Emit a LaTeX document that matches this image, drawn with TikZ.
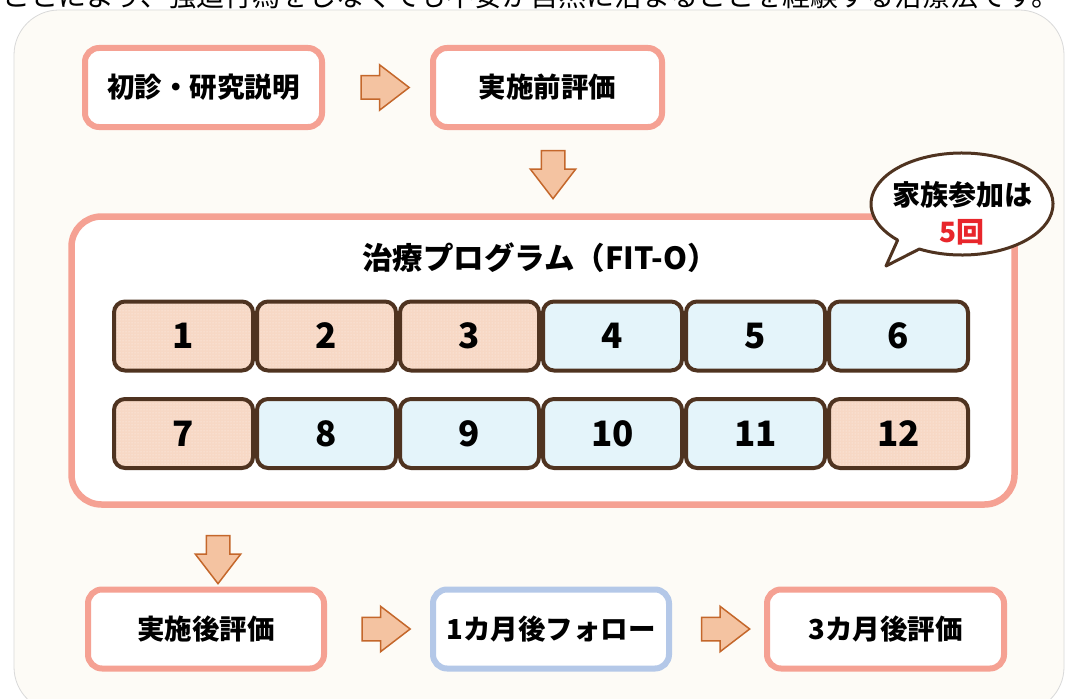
\documentclass[tikz,border=0pt]{standalone}
\usepackage{fontspec}
\setmainfont{Noto Sans CJK JP}
\usetikzlibrary{shapes.arrows,calc,patterns}
\definecolor{card}{HTML}{FDFBF6}
\definecolor{salmon}{HTML}{F5A193}
\definecolor{followblue}{HTML}{B4C8E8}
\definecolor{sessbrown}{HTML}{4F3320}
\definecolor{peach}{HTML}{F7D8C5}
\definecolor{lblue}{HTML}{E4F4FA}
\definecolor{arrowfill}{HTML}{F4C3A1}
\definecolor{arrowline}{HTML}{C4672B}
\definecolor{numred}{HTML}{E8262B}
\begin{document}
\begin{tikzpicture}[x=1pt,y=1pt,
  flowbox/.style={draw=salmon, line width=6pt, rounded corners=14pt, fill=white,
    minimum width=236pt, minimum height=79pt, inner sep=0pt,
    font=\bfseries\fontsize{27.5}{30}\selectfont},
  bigbox/.style={draw=salmon, line width=6.5pt, rounded corners=30pt, fill=white,
    minimum width=943pt, minimum height=288pt, inner sep=0pt},
  sess/.style={draw=sessbrown, line width=4pt, rounded corners=11pt,
    minimum width=139pt, minimum height=69pt, inner sep=0pt,
    font=\bfseries\fontsize{35}{35}\selectfont},
  sesspeach/.style={sess, preaction={fill=peach}, pattern=dots, pattern color=white!70!peach},
  sessblue/.style={sess, fill=lblue},
  blockarrow/.style={single arrow, draw=arrowline, fill=arrowfill, line width=1.5pt,
    minimum height=48pt, inner xsep=0pt, inner ysep=11pt, single arrow head extend=11pt,
    single arrow tip angle=75},
  bubbleline/.style={draw=sessbrown, line width=3pt, fill=white, line join=round}
]
\useasboundingbox (0,0) rectangle (1067,-698);
\fill[white] (0,0) rectangle (1067,-698);
\filldraw[fill=card, draw=black!15, line width=0.8pt, rounded corners=45pt] (14,-10) rectangle (1064,-712);
\node[font=\fontsize{28}{30}\selectfont, anchor=base east, inner sep=0pt] (toptext) at (1060,-7)
  {ことにより、強迫行為をしなくても不安が自然に治まることを経験する治療法です。};

% top row
\node[flowbox, minimum width=237pt] (first) at (203.5,-87.5) {初診・研究説明};
\node[flowbox, minimum width=229pt] (pre) at (547.5,-87.5) {実施前評価};
\node[blockarrow] (a1) at ($(first.east)!0.5!(pre.west)$) {};
\node[blockarrow, rotate=-90] (a2) at (553,-167) {};

% program box
\node[bigbox] (prog) at (543,-360.5) {};
\node[font=\bfseries\fontsize{30.5}{32}\selectfont] (title) at (540,-258) {治療プログラム（FIT-O）};

\foreach \n/\s [count=\i] in {1/sesspeach,2/sesspeach,3/sesspeach,4/sessblue,5/sessblue,6/sessblue}
  \node[\s] (s\n) at ({183.5+143*(\i-1)},-336) {\n};
\foreach \n/\s [count=\i] in {7/sesspeach,8/sessblue,9/sessblue,10/sessblue,11/sessblue,12/sesspeach}
  \node[\s] (s\n) at ({183.5+143*(\i-1)},-433.5) {\n};

% bubble
\coordinate (bubc) at (962,-204);
\coordinate (tailtip) at (886,-266);
\draw[bubbleline] ($(bubc)+(242:91pt and 51pt)$) arc[start angle=242, end angle=585, x radius=91pt, y radius=51pt] -- (tailtip) -- cycle;
\node[font=\bfseries\fontsize{28}{37}\selectfont, align=center] (bubtext) at (962,-213)
  {家族参加は\\\textcolor{numred}{5回}};

% bottom row
\node[blockarrow, rotate=-90] (a3) at (218,-552) {};
\node[flowbox, minimum width=236pt] (post) at (206,-629) {実施後評価};
\node[flowbox, draw=followblue, minimum width=236pt] (follow) at (551,-629) {1カ月後フォロー};
\node[flowbox, minimum width=237pt] (three) at (885.5,-629) {3カ月後評価};
\node[blockarrow] (a4) at ($(post.east)!0.5!(follow.west)$) {};
\node[blockarrow] (a5) at ($(follow.east)!0.5!(three.west)$) {};
\end{tikzpicture}
\end{document}
